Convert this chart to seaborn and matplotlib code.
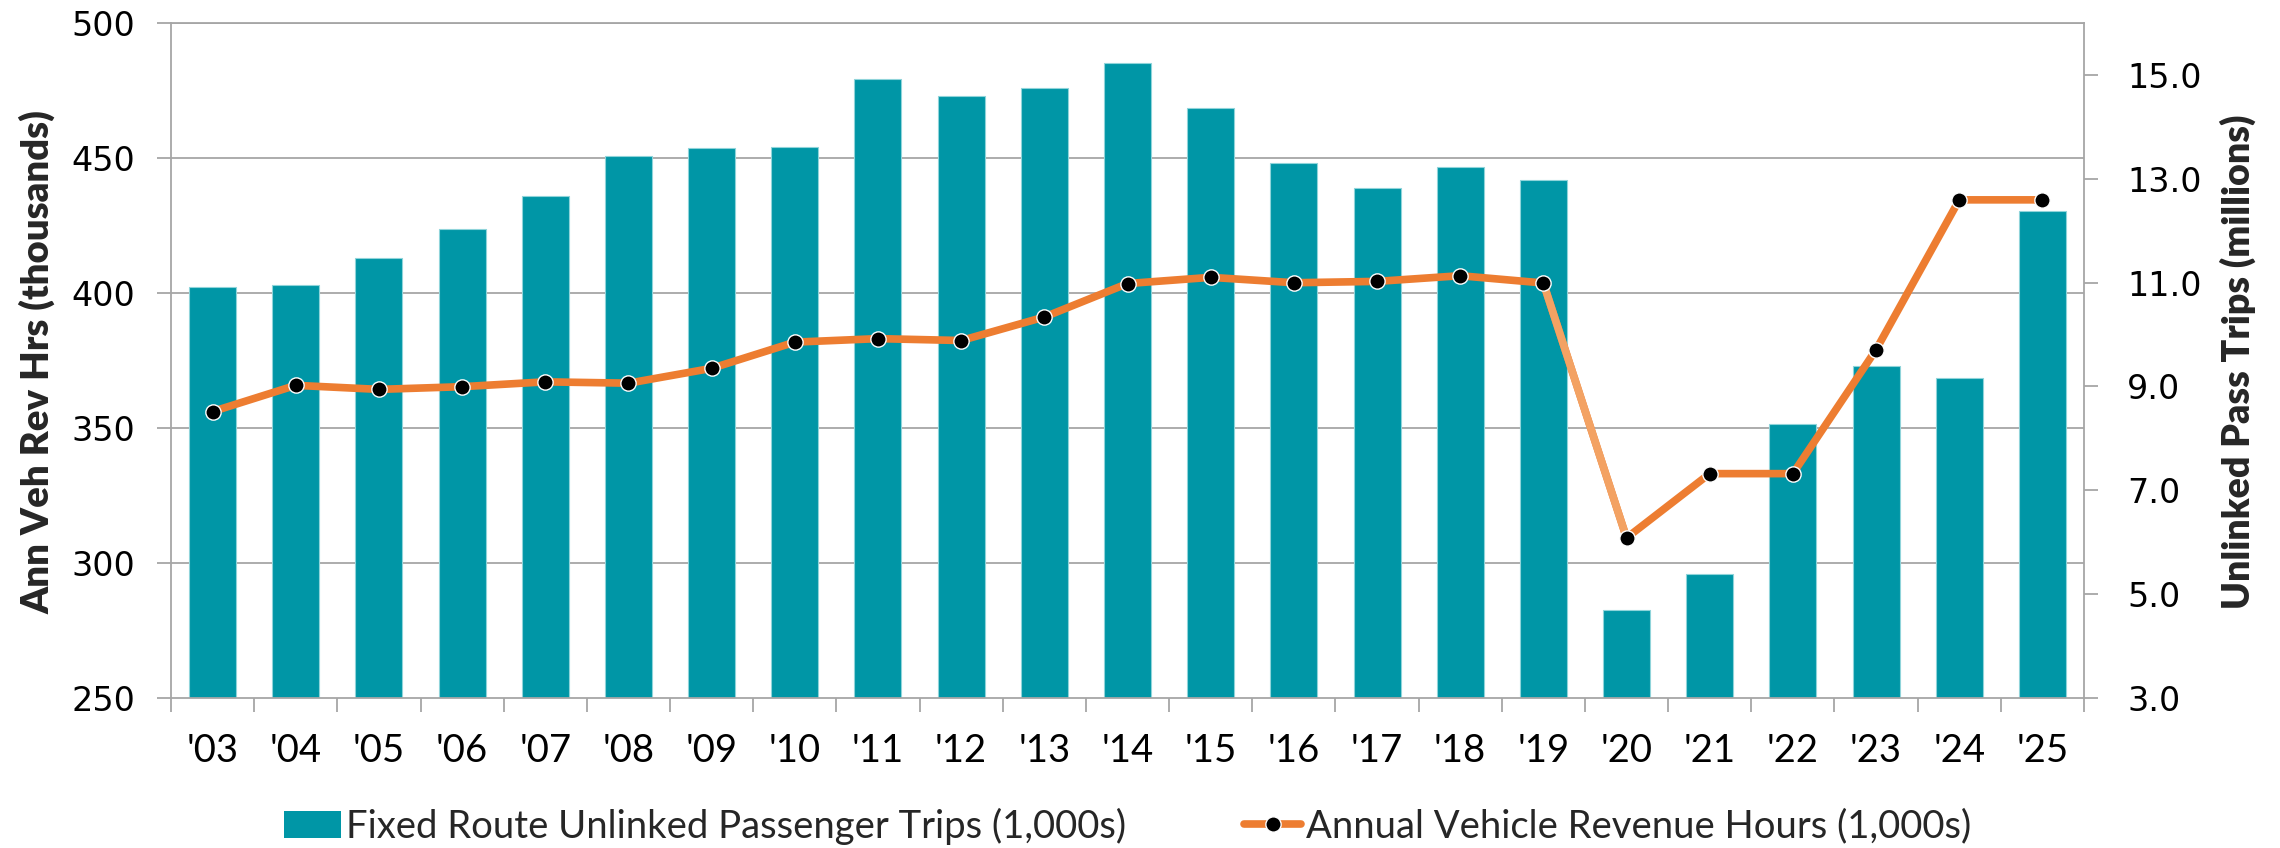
import numpy as np
import pandas as pd
import matplotlib
matplotlib.use("Agg")
import matplotlib.pyplot as plt
from matplotlib.lines import Line2D
from matplotlib.patches import Patch
from matplotlib.ticker import FixedLocator
import seaborn as sns

# ---- data -------------------------------------------------------------
years = ["'03", "'04", "'05", "'06", "'07", "'08", "'09", "'10", "'11", "'12",
         "'13", "'14", "'15", "'16", "'17", "'18", "'19", "'20", "'21", "'22",
         "'23", "'24", "'25"]

# fixed route unlinked passenger trips, millions (right axis)
trips_millions = [10.92, 10.96, 11.48, 12.03, 12.67, 13.44, 13.59, 13.62, 14.92, 14.59,
                  14.74, 15.22, 14.36, 13.30, 12.82, 13.23, 12.97, 4.69, 5.39, 8.28,
                  9.40, 9.16, 12.38]

# annual vehicle revenue hours, thousands (left axis)
rev_hours_thousands = [356.1, 365.8, 364.3, 365.3, 367.1, 366.6, 372.1, 381.8, 383.1, 382.4,
                       391.1, 403.5, 405.8, 403.8, 404.3, 406.4, 403.7, 309.3, 333.1, 333.1,
                       379.0, 434.5, 434.5]

hours_ticks = [250, 300, 350, 400, 450, 500]
trips_ticks = [3, 5, 7, 9, 11, 13, 15]
hours_lim = (250, 500)
trips_lim = (3, 16)

bar_label = "Fixed Route Unlinked Passenger Trips (1,000s)"
line_label = "Annual Vehicle Revenue Hours (1,000s)"
left_title = "Ann Veh Rev Hrs (thousands)"
right_title = "Unlinked Pass Trips (millions)"

# ---- style ------------------------------------------------------------
TEAL = "#0096A6"
TEAL_EDGE = "#8fd4da"
ORANGE = "#ED7D31"
ORANGE_LIGHT = "#F3A263"
GRID = "#A6A6A6"

sns.set_theme(style="white")
plt.rcParams["font.family"] = ["Lato", "DejaVu Sans"]

W, H = 2280, 848
fig = plt.figure(figsize=(W / 100, H / 100), dpi=100)
L, R, T, B = 171, 2084, 23, 698
ax_bar = fig.add_axes([L / W, 1 - B / H, (R - L) / W, (B - T) / H])

df = pd.DataFrame({"year": years, "trips": trips_millions, "hours": rev_hours_thousands})
n = len(years)
pos = np.arange(n)

# bars: passenger trips on the right-hand scale
sns.barplot(data=df, x="year", y="trips", color=TEAL, saturation=1, width=0.565,
            edgecolor=TEAL_EDGE, linewidth=0.8, ax=ax_bar)
ax_bar.set_ylim(*trips_lim)
ax_bar.set_xlim(-0.5, n - 0.5)
ax_bar.set_xlabel("")
ax_bar.set_ylabel("")

# line: revenue hours on the left-hand scale
ax_line = ax_bar.twinx()
ax_bar.yaxis.tick_right()
ax_line.yaxis.tick_left()

sns.lineplot(x=pos, y=df["hours"].to_numpy(), color=ORANGE, linewidth=5.5,
             sort=False, ax=ax_line)
# pandemic-year drop drawn in a lighter tone
sns.lineplot(x=pos[16:18], y=df["hours"].to_numpy()[16:18], color=ORANGE_LIGHT,
             linewidth=5.5, sort=False, ax=ax_line)
ax_line.plot(pos, df["hours"], linestyle="none", marker="o", markersize=11,
             markerfacecolor="black", markeredgecolor="white", markeredgewidth=1.0,
             zorder=5)
ax_line.set_ylim(*hours_lim)
ax_bar.set_xlim(-0.5, n - 0.5)
ax_line.set_ylabel("")

# gridlines follow the left-hand ticks but sit behind the bars
span_t = trips_lim[1] - trips_lim[0]
span_h = hours_lim[1] - hours_lim[0]
grid_pos = [trips_lim[0] + (t - hours_lim[0]) * span_t / span_h for t in hours_ticks]
ax_bar.yaxis.set_minor_locator(FixedLocator(grid_pos))
ax_bar.set_axisbelow(True)
ax_bar.grid(False)
ax_bar.grid(which="minor", axis="y", color=GRID, linewidth=1.3)

# ticks and labels
ax_bar.set_xticks(pos, labels=years, fontsize=27.5, fontfamily=["Lato", "DejaVu Sans"])
ax_bar.xaxis.set_minor_locator(FixedLocator(np.arange(-0.5, n, 1.0)))
ax_bar.tick_params(axis="x", which="major", length=0, pad=25, colors="black")
ax_bar.tick_params(axis="x", which="minor", bottom=True, length=10, width=1.3, color=GRID)

ax_bar.set_yticks(trips_ticks, labels=[f"{v:.1f}" for v in trips_ticks],
                  fontsize=24, fontfamily="DejaVu Sans")
ax_bar.tick_params(axis="y", which="major", right=True, left=False, labelright=True,
                   labelleft=False, length=10, width=1.3, color=GRID, pad=21,
                   labelcolor="black")
ax_bar.tick_params(axis="y", which="minor", length=0, left=False, right=False)

ax_line.set_yticks(hours_ticks, labels=[str(v) for v in hours_ticks],
                   fontsize=24, fontfamily="DejaVu Sans")
ax_line.tick_params(axis="y", which="major", left=True, right=False, labelleft=True,
                    labelright=False, length=10, width=1.3, color=GRID, pad=16,
                    labelcolor="black")

for sp in ax_bar.spines.values():
    sp.set_visible(True)
    sp.set_color(GRID)
    sp.set_linewidth(1.3)
for sp in ax_line.spines.values():
    sp.set_visible(False)

# axis titles
fig.text(37 / W, 1 - 362 / H, left_title, rotation=90, ha="center", va="center",
         fontsize=27.5, fontweight="heavy")
fig.text(2238 / W, 1 - 362 / H, right_title, rotation=90, ha="center", va="center",
         fontsize=27, fontweight="heavy")

# legend
handles = [
    Patch(facecolor=TEAL, edgecolor="none"),
    Line2D([0], [0], color=ORANGE, linewidth=5.5, marker="o", markersize=11,
           markerfacecolor="black", markeredgecolor="white", markeredgewidth=1.0),
]
fig.legend(handles, [bar_label, line_label], loc="center",
           bbox_to_anchor=((L + R) / 2 / W, 1 - 826 / H), ncol=2, frameon=False,
           fontsize=27.5, handlelength=1.5, handletextpad=0.12, columnspacing=3.1,
           borderaxespad=0, borderpad=0)

fig.savefig("out.png", dpi=100)
